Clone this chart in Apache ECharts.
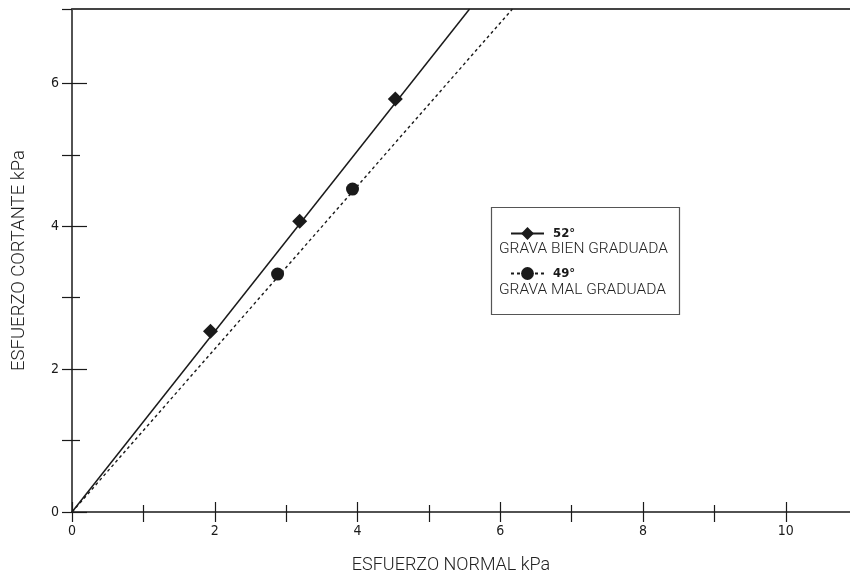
<!DOCTYPE html>
<html><head><meta charset="utf-8">
<script src="https://cdn.jsdelivr.net/npm/echarts@6/dist/echarts.min.js"></script>
<style>html,body{margin:0;padding:0;background:#fff}#c{width:850px;height:579px}</style>
</head><body><div id="c"></div>
<script>
// ---- data ----
const bienName = '52°';
const malName = '49°';
const bienDesc = 'GRAVA BIEN GRADUADA';
const malDesc = 'GRAVA MAL GRADUADA';
const bienPoints = [[1.94, 2.53], [3.19, 4.07], [4.53, 5.78]];
const malPoints = [[2.88, 3.33], [3.93, 4.52]];
const bienLine = [[0, 0], [5.57, 7.04]];
const malLine = [[0, 0], [6.17, 7.04]];
const xAllTicks = [0, 1, 2, 3, 4, 5, 6, 7, 8, 9, 10];
const xMajorTicks = [0, 2, 4, 6, 8, 10];
const xMinorTicks = [1, 3, 5, 7, 9];
const yAllTicks = [0, 1, 2, 3, 4, 5, 6];
const yMajorTicks = [0, 2, 4, 6];
const yMinorTicks = [1, 3, 5];
const xName = 'ESFUERZO NORMAL kPa';
const yName = 'ESFUERZO CORTANTE kPa';
const xMin = 0, xMax = 10.9, yMin = 0, yMax = 7.04;

const NARROW = '"Liberation Sans Narrow","DejaVu Sans Condensed",Roboto,sans-serif';
const TITLEF = 'Roboto, "Open Sans", sans-serif';
const INK = '#1a1a1a';

function xAx(extra) {
  return Object.assign({
    type: 'value', min: xMin, max: xMax, position: 'bottom',
    axisLine: { show: false, onZero: false },
    axisTick: { show: false },
    axisLabel: { show: false },
    splitLine: { show: false }
  }, extra);
}
function yAx(extra) {
  return Object.assign({
    type: 'value', min: yMin, max: yMax, position: 'left',
    axisLine: { show: false, onZero: false },
    axisTick: { show: false },
    axisLabel: { show: false },
    splitLine: { show: false }
  }, extra);
}

const chart = echarts.init(document.getElementById('c'), null, { renderer: 'canvas' });
chart.setOption({
  animation: false,
  backgroundColor: '#fff',
  grid: { left: 72, right: 0, top: 9, bottom: 67, containLabel: false },
  xAxis: [
    xAx({
      axisLine: { show: true, onZero: false, lineStyle: { color: INK, width: 1.5 } },
      axisTick: { show: true, inside: false, length: 10, customValues: xAllTicks, lineStyle: { color: INK, width: 1.2 } },
      axisLabel: { show: true, customValues: xMajorTicks, margin: 12, fontSize: 14, color: INK, fontFamily: NARROW },
      name: xName, nameLocation: 'middle', nameGap: 44,
      nameTextStyle: { fontSize: 18, fontWeight: 300, color: '#222', fontFamily: TITLEF, padding: [0, 20, 0, 0] }
    }),
    xAx({ axisTick: { show: true, inside: true, length: 10, customValues: xMajorTicks, lineStyle: { color: INK, width: 1.2 } } }),
    xAx({ axisTick: { show: true, inside: true, length: 7, customValues: xMinorTicks, lineStyle: { color: INK, width: 1.2 } } }),
    xAx({ position: 'top', axisLine: { show: true, onZero: false, lineStyle: { color: '#444', width: 2 } } })
  ],
  yAxis: [
    yAx({
      axisLine: { show: true, onZero: false, lineStyle: { color: INK, width: 1.5 } },
      axisTick: { show: true, inside: false, length: 10, customValues: yAllTicks.concat([yMax]), lineStyle: { color: INK, width: 1.2 } },
      axisLabel: { show: true, customValues: yMajorTicks, margin: 13, fontSize: 14, color: INK, fontFamily: NARROW },
      name: yName, nameLocation: 'middle', nameGap: 43,
      nameTextStyle: { fontSize: 18.5, fontWeight: 300, color: '#222', fontFamily: TITLEF }
    }),
    yAx({ axisTick: { show: true, inside: true, length: 15, customValues: yMajorTicks, lineStyle: { color: INK, width: 1.2 } } }),
    yAx({ axisTick: { show: true, inside: true, length: 8, customValues: yMinorTicks, lineStyle: { color: INK, width: 1.2 } } })
  ],
  legend: {
    data: [bienName, malName],
    orient: 'vertical', left: 510, top: 227, padding: 0,
    itemWidth: 33, itemHeight: 16, itemGap: 27,
    textStyle: { fontSize: 13, fontWeight: 'bold', color: INK, fontFamily: NARROW, padding: [0, 0, 0, 4] },
    selectedMode: false
  },
  graphic: [
    { type: 'rect', left: 489, top: 205, shape: { width: 188, height: 107 }, style: { fill: 'none', stroke: '#555', lineWidth: 1.2 }, silent: true },
    { type: 'text', left: 499, top: 241, style: { text: bienDesc, fontSize: 15.5, fontWeight: 300, fill: '#222', fontFamily: TITLEF } },
    { type: 'text', left: 499, top: 282, style: { text: malDesc, fontSize: 15.5, fontWeight: 300, fill: '#222', fontFamily: TITLEF } }
  ],
  series: [
    { name: bienName, type: 'line', data: bienLine, symbol: 'diamond', showSymbol: false, color: INK,
      lineStyle: { color: INK, width: 1.5 }, itemStyle: { color: INK }, silent: true },
    { name: malName, type: 'line', data: malLine, symbol: 'circle', showSymbol: false, color: INK,
      lineStyle: { color: INK, width: 1.4, type: [3, 3] }, itemStyle: { color: INK }, silent: true },
    { name: 'bienPts', type: 'scatter', data: bienPoints, symbol: 'diamond', symbolSize: 15, itemStyle: { color: INK, opacity: 1 }, silent: true },
    { name: 'malPts', type: 'scatter', data: malPoints, symbol: 'circle', symbolSize: 13, itemStyle: { color: INK, opacity: 1 }, silent: true }
  ]
});
</script></body></html>
